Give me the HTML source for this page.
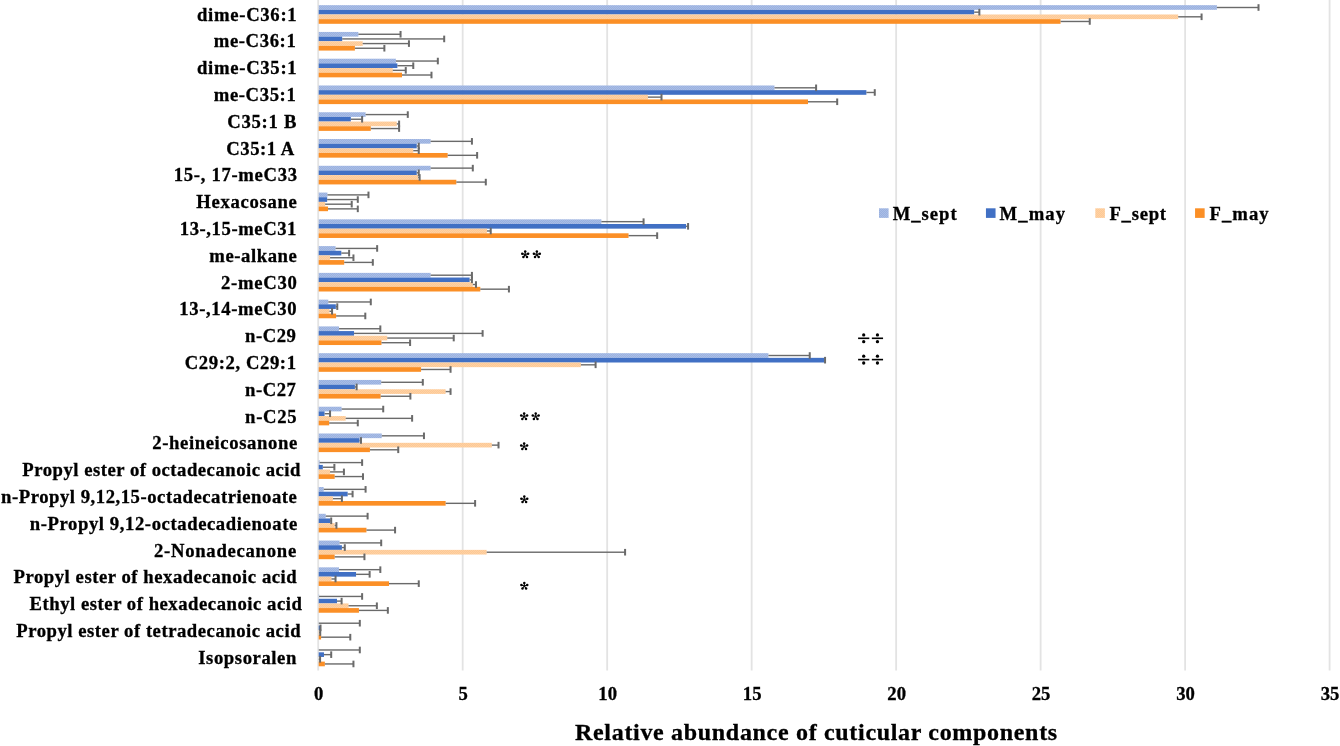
<!DOCTYPE html>
<html><head><meta charset="utf-8"><style>
html,body{margin:0;padding:0;background:#fff;}
body{width:1340px;height:746px;overflow:hidden;}
svg{display:block;}
svg{will-change:transform}
.lb{font-family:"Liberation Serif",serif;font-weight:bold;font-size:18.67px;fill:#000;stroke:#000;stroke-width:0.3px;white-space:pre;}
.tt{font-family:"Liberation Serif",serif;font-weight:bold;font-size:24px;fill:#000;stroke:#000;stroke-width:0.3px;}
</style></head><body>
<svg width="1340" height="746" viewBox="0 0 1340 746">
<defs>
<pattern id="pb" width="2" height="2" patternUnits="userSpaceOnUse"><rect width="2" height="2" fill="#9AB1DF"/><rect width="1" height="1" fill="#A9BDE6"/><rect x="1" y="1" width="1" height="1" fill="#A9BDE6"/></pattern>
<pattern id="po" width="2" height="2" patternUnits="userSpaceOnUse"><rect width="2" height="2" fill="#FDC994"/><rect width="1" height="1" fill="#FED1A5"/><rect x="1" y="1" width="1" height="1" fill="#FED1A5"/></pattern>
</defs>
<rect width="1340" height="746" fill="#fff"/>
<rect x="317.30" y="0" width="1.8" height="670.5" fill="#e3e3e3"/>
<rect x="461.78" y="0" width="1.8" height="670.5" fill="#e3e3e3"/>
<rect x="606.27" y="0" width="1.8" height="670.5" fill="#e3e3e3"/>
<rect x="750.75" y="0" width="1.8" height="670.5" fill="#e3e3e3"/>
<rect x="895.24" y="0" width="1.8" height="670.5" fill="#e3e3e3"/>
<rect x="1039.72" y="0" width="1.8" height="670.5" fill="#e3e3e3"/>
<rect x="1184.21" y="0" width="1.8" height="670.5" fill="#e3e3e3"/>
<rect x="1328.69" y="0" width="1.8" height="670.5" fill="#e3e3e3"/>
<rect x="318.70" y="5.17" width="898.20" height="4.66" fill="url(#pb)"/>
<rect x="318.70" y="9.83" width="655.46" height="4.66" fill="#4170C4"/>
<rect x="318.70" y="14.48" width="859.47" height="4.66" fill="url(#po)"/>
<rect x="318.70" y="19.14" width="741.86" height="4.66" fill="#FB8F26"/>
<rect x="318.70" y="31.94" width="39.67" height="4.66" fill="url(#pb)"/>
<rect x="318.70" y="36.60" width="23.48" height="4.66" fill="#4170C4"/>
<rect x="318.70" y="41.26" width="44.00" height="4.66" fill="url(#po)"/>
<rect x="318.70" y="45.91" width="36.20" height="4.66" fill="#FB8F26"/>
<rect x="318.70" y="58.71" width="77.23" height="4.66" fill="url(#pb)"/>
<rect x="318.70" y="63.37" width="78.68" height="4.66" fill="#4170C4"/>
<rect x="318.70" y="68.02" width="74.05" height="4.66" fill="url(#po)"/>
<rect x="318.70" y="72.68" width="83.30" height="4.66" fill="#FB8F26"/>
<rect x="318.70" y="85.48" width="455.78" height="4.66" fill="url(#pb)"/>
<rect x="318.70" y="90.14" width="547.68" height="4.66" fill="#4170C4"/>
<rect x="318.70" y="94.79" width="329.21" height="4.66" fill="url(#po)"/>
<rect x="318.70" y="99.45" width="489.30" height="4.66" fill="#FB8F26"/>
<rect x="318.70" y="112.25" width="46.89" height="4.66" fill="url(#pb)"/>
<rect x="318.70" y="116.91" width="32.15" height="4.66" fill="#4170C4"/>
<rect x="318.70" y="121.56" width="78.10" height="4.66" fill="url(#po)"/>
<rect x="318.70" y="126.22" width="52.09" height="4.66" fill="#FB8F26"/>
<rect x="318.70" y="139.02" width="111.91" height="4.66" fill="url(#pb)"/>
<rect x="318.70" y="143.68" width="98.04" height="4.66" fill="#4170C4"/>
<rect x="318.70" y="148.33" width="94.57" height="4.66" fill="url(#po)"/>
<rect x="318.70" y="152.99" width="128.96" height="4.66" fill="#FB8F26"/>
<rect x="318.70" y="165.79" width="111.91" height="4.66" fill="url(#pb)"/>
<rect x="318.70" y="170.45" width="98.04" height="4.66" fill="#4170C4"/>
<rect x="318.70" y="175.10" width="99.48" height="4.66" fill="url(#po)"/>
<rect x="318.70" y="179.76" width="137.63" height="4.66" fill="#FB8F26"/>
<rect x="318.70" y="192.56" width="8.75" height="4.66" fill="url(#pb)"/>
<rect x="318.70" y="197.22" width="8.46" height="4.66" fill="#4170C4"/>
<rect x="318.70" y="201.87" width="6.44" height="4.66" fill="url(#po)"/>
<rect x="318.70" y="206.53" width="9.32" height="4.66" fill="#FB8F26"/>
<rect x="318.70" y="219.33" width="282.69" height="4.66" fill="url(#pb)"/>
<rect x="318.70" y="223.99" width="367.36" height="4.66" fill="#4170C4"/>
<rect x="318.70" y="228.64" width="168.26" height="4.66" fill="url(#po)"/>
<rect x="318.70" y="233.30" width="309.85" height="4.66" fill="#FB8F26"/>
<rect x="318.70" y="246.10" width="16.84" height="4.66" fill="url(#pb)"/>
<rect x="318.70" y="250.76" width="22.62" height="4.66" fill="#4170C4"/>
<rect x="318.70" y="255.41" width="11.35" height="4.66" fill="url(#po)"/>
<rect x="318.70" y="260.07" width="25.51" height="4.66" fill="#FB8F26"/>
<rect x="318.70" y="272.87" width="111.91" height="4.66" fill="url(#pb)"/>
<rect x="318.70" y="277.53" width="150.92" height="4.66" fill="#4170C4"/>
<rect x="318.70" y="282.19" width="154.10" height="4.66" fill="url(#po)"/>
<rect x="318.70" y="286.84" width="161.61" height="4.66" fill="#FB8F26"/>
<rect x="318.70" y="299.64" width="9.61" height="4.66" fill="url(#pb)"/>
<rect x="318.70" y="304.30" width="17.13" height="4.66" fill="#4170C4"/>
<rect x="318.70" y="308.95" width="10.77" height="4.66" fill="url(#po)"/>
<rect x="318.70" y="313.61" width="17.42" height="4.66" fill="#FB8F26"/>
<rect x="318.70" y="326.41" width="20.31" height="4.66" fill="url(#pb)"/>
<rect x="318.70" y="331.07" width="35.33" height="4.66" fill="#4170C4"/>
<rect x="318.70" y="335.73" width="68.56" height="4.66" fill="url(#po)"/>
<rect x="318.70" y="340.38" width="62.78" height="4.66" fill="#FB8F26"/>
<rect x="318.70" y="353.18" width="449.72" height="4.66" fill="url(#pb)"/>
<rect x="318.70" y="357.84" width="505.78" height="4.66" fill="#4170C4"/>
<rect x="318.70" y="362.50" width="262.17" height="4.66" fill="url(#po)"/>
<rect x="318.70" y="367.15" width="102.37" height="4.66" fill="#FB8F26"/>
<rect x="318.70" y="379.95" width="62.50" height="4.66" fill="url(#pb)"/>
<rect x="318.70" y="384.61" width="36.20" height="4.66" fill="#4170C4"/>
<rect x="318.70" y="389.26" width="126.94" height="4.66" fill="url(#po)"/>
<rect x="318.70" y="393.92" width="61.92" height="4.66" fill="#FB8F26"/>
<rect x="318.70" y="406.72" width="22.91" height="4.66" fill="url(#pb)"/>
<rect x="318.70" y="411.38" width="5.86" height="4.66" fill="#4170C4"/>
<rect x="318.70" y="416.04" width="26.95" height="4.66" fill="url(#po)"/>
<rect x="318.70" y="420.69" width="10.48" height="4.66" fill="#FB8F26"/>
<rect x="318.70" y="433.49" width="63.07" height="4.66" fill="url(#pb)"/>
<rect x="318.70" y="438.15" width="40.82" height="4.66" fill="#4170C4"/>
<rect x="318.70" y="442.81" width="173.17" height="4.66" fill="url(#po)"/>
<rect x="318.70" y="447.46" width="51.23" height="4.66" fill="#FB8F26"/>
<rect x="318.70" y="460.26" width="0.94" height="4.66" fill="url(#pb)"/>
<rect x="318.70" y="464.92" width="4.12" height="4.66" fill="#4170C4"/>
<rect x="318.70" y="469.57" width="11.35" height="4.66" fill="url(#po)"/>
<rect x="318.70" y="474.23" width="15.97" height="4.66" fill="#FB8F26"/>
<rect x="318.70" y="487.03" width="4.99" height="4.66" fill="url(#pb)"/>
<rect x="318.70" y="491.69" width="28.97" height="4.66" fill="#4170C4"/>
<rect x="318.70" y="496.35" width="14.24" height="4.66" fill="url(#po)"/>
<rect x="318.70" y="501.00" width="126.94" height="4.66" fill="#FB8F26"/>
<rect x="318.70" y="513.80" width="7.01" height="4.66" fill="url(#pb)"/>
<rect x="318.70" y="518.46" width="11.64" height="4.66" fill="#4170C4"/>
<rect x="318.70" y="523.12" width="15.97" height="4.66" fill="url(#po)"/>
<rect x="318.70" y="527.77" width="47.76" height="4.66" fill="#FB8F26"/>
<rect x="318.70" y="540.57" width="20.88" height="4.66" fill="url(#pb)"/>
<rect x="318.70" y="545.23" width="23.20" height="4.66" fill="#4170C4"/>
<rect x="318.70" y="549.88" width="167.97" height="4.66" fill="url(#po)"/>
<rect x="318.70" y="554.54" width="15.97" height="4.66" fill="#FB8F26"/>
<rect x="318.70" y="567.34" width="20.31" height="4.66" fill="url(#pb)"/>
<rect x="318.70" y="572.00" width="37.36" height="4.66" fill="#4170C4"/>
<rect x="318.70" y="576.65" width="12.79" height="4.66" fill="url(#po)"/>
<rect x="318.70" y="581.31" width="70.30" height="4.66" fill="#FB8F26"/>
<rect x="318.70" y="594.11" width="0.37" height="4.66" fill="url(#pb)"/>
<rect x="318.70" y="598.77" width="18.28" height="4.66" fill="#4170C4"/>
<rect x="318.70" y="603.42" width="29.84" height="4.66" fill="url(#po)"/>
<rect x="318.70" y="608.08" width="40.24" height="4.66" fill="#FB8F26"/>
<rect x="318.70" y="620.88" width="0.08" height="4.66" fill="url(#pb)"/>
<rect x="318.70" y="625.54" width="1.52" height="4.66" fill="#4170C4"/>
<rect x="318.70" y="630.20" width="0.37" height="4.66" fill="url(#po)"/>
<rect x="318.70" y="634.85" width="2.39" height="4.66" fill="#FB8F26"/>
<rect x="318.70" y="647.65" width="0.08" height="4.66" fill="url(#pb)"/>
<rect x="318.70" y="652.31" width="5.28" height="4.66" fill="#4170C4"/>
<rect x="318.70" y="656.97" width="0.08" height="4.66" fill="url(#po)"/>
<rect x="318.70" y="661.62" width="6.15" height="4.66" fill="#FB8F26"/>
<rect x="1216.90" y="6.80" width="41.61" height="1.4" fill="#6a6a6a"/>
<rect x="1257.51" y="4.20" width="2" height="6.6" fill="#6a6a6a"/>
<rect x="974.16" y="11.46" width="5.20" height="1.4" fill="#6a6a6a"/>
<rect x="978.36" y="8.86" width="2" height="6.6" fill="#6a6a6a"/>
<rect x="1178.17" y="16.11" width="23.41" height="1.4" fill="#6a6a6a"/>
<rect x="1200.58" y="13.51" width="2" height="6.6" fill="#6a6a6a"/>
<rect x="1060.56" y="20.77" width="29.19" height="1.4" fill="#6a6a6a"/>
<rect x="1088.75" y="18.17" width="2" height="6.6" fill="#6a6a6a"/>
<rect x="358.37" y="33.57" width="42.19" height="1.4" fill="#6a6a6a"/>
<rect x="399.56" y="30.97" width="2" height="6.6" fill="#6a6a6a"/>
<rect x="342.18" y="38.23" width="102.01" height="1.4" fill="#6a6a6a"/>
<rect x="443.19" y="35.63" width="2" height="6.6" fill="#6a6a6a"/>
<rect x="362.70" y="42.88" width="46.24" height="1.4" fill="#6a6a6a"/>
<rect x="407.94" y="40.28" width="2" height="6.6" fill="#6a6a6a"/>
<rect x="354.90" y="47.54" width="29.47" height="1.4" fill="#6a6a6a"/>
<rect x="383.37" y="44.94" width="2" height="6.6" fill="#6a6a6a"/>
<rect x="395.93" y="60.34" width="41.90" height="1.4" fill="#6a6a6a"/>
<rect x="436.83" y="57.74" width="2" height="6.6" fill="#6a6a6a"/>
<rect x="397.38" y="65.00" width="15.89" height="1.4" fill="#6a6a6a"/>
<rect x="412.27" y="62.40" width="2" height="6.6" fill="#6a6a6a"/>
<rect x="392.75" y="69.65" width="13.00" height="1.4" fill="#6a6a6a"/>
<rect x="404.76" y="67.05" width="2" height="6.6" fill="#6a6a6a"/>
<rect x="402.00" y="74.31" width="29.47" height="1.4" fill="#6a6a6a"/>
<rect x="430.48" y="71.71" width="2" height="6.6" fill="#6a6a6a"/>
<rect x="774.48" y="87.11" width="41.61" height="1.4" fill="#6a6a6a"/>
<rect x="815.10" y="84.51" width="2" height="6.6" fill="#6a6a6a"/>
<rect x="866.38" y="91.77" width="8.38" height="1.4" fill="#6a6a6a"/>
<rect x="873.76" y="89.17" width="2" height="6.6" fill="#6a6a6a"/>
<rect x="647.91" y="96.42" width="13.58" height="1.4" fill="#6a6a6a"/>
<rect x="660.50" y="93.82" width="2" height="6.6" fill="#6a6a6a"/>
<rect x="808.00" y="101.08" width="29.19" height="1.4" fill="#6a6a6a"/>
<rect x="836.19" y="98.48" width="2" height="6.6" fill="#6a6a6a"/>
<rect x="365.59" y="113.88" width="42.19" height="1.4" fill="#6a6a6a"/>
<rect x="406.78" y="111.28" width="2" height="6.6" fill="#6a6a6a"/>
<rect x="350.85" y="118.54" width="11.27" height="1.4" fill="#6a6a6a"/>
<rect x="361.12" y="115.94" width="2" height="6.6" fill="#6a6a6a"/>
<rect x="396.80" y="123.19" width="2.31" height="1.4" fill="#6a6a6a"/>
<rect x="398.11" y="120.59" width="2" height="6.6" fill="#6a6a6a"/>
<rect x="370.79" y="127.85" width="28.32" height="1.4" fill="#6a6a6a"/>
<rect x="398.11" y="125.25" width="2" height="6.6" fill="#6a6a6a"/>
<rect x="430.61" y="140.65" width="41.32" height="1.4" fill="#6a6a6a"/>
<rect x="470.93" y="138.05" width="2" height="6.6" fill="#6a6a6a"/>
<rect x="416.74" y="145.31" width="2.02" height="1.4" fill="#6a6a6a"/>
<rect x="417.76" y="142.71" width="2" height="6.6" fill="#6a6a6a"/>
<rect x="413.27" y="149.96" width="5.49" height="1.4" fill="#6a6a6a"/>
<rect x="417.76" y="147.36" width="2" height="6.6" fill="#6a6a6a"/>
<rect x="447.66" y="154.62" width="29.47" height="1.4" fill="#6a6a6a"/>
<rect x="476.13" y="152.02" width="2" height="6.6" fill="#6a6a6a"/>
<rect x="430.61" y="167.42" width="42.19" height="1.4" fill="#6a6a6a"/>
<rect x="471.80" y="164.82" width="2" height="6.6" fill="#6a6a6a"/>
<rect x="416.74" y="172.08" width="2.02" height="1.4" fill="#6a6a6a"/>
<rect x="417.76" y="169.48" width="2" height="6.6" fill="#6a6a6a"/>
<rect x="418.18" y="176.73" width="1.44" height="1.4" fill="#6a6a6a"/>
<rect x="418.63" y="174.13" width="2" height="6.6" fill="#6a6a6a"/>
<rect x="456.33" y="181.39" width="29.47" height="1.4" fill="#6a6a6a"/>
<rect x="484.80" y="178.79" width="2" height="6.6" fill="#6a6a6a"/>
<rect x="327.45" y="194.19" width="41.03" height="1.4" fill="#6a6a6a"/>
<rect x="367.48" y="191.59" width="2" height="6.6" fill="#6a6a6a"/>
<rect x="327.16" y="198.85" width="30.63" height="1.4" fill="#6a6a6a"/>
<rect x="356.79" y="196.25" width="2" height="6.6" fill="#6a6a6a"/>
<rect x="325.14" y="203.50" width="26.59" height="1.4" fill="#6a6a6a"/>
<rect x="350.72" y="200.90" width="2" height="6.6" fill="#6a6a6a"/>
<rect x="328.02" y="208.16" width="29.76" height="1.4" fill="#6a6a6a"/>
<rect x="356.79" y="205.56" width="2" height="6.6" fill="#6a6a6a"/>
<rect x="601.39" y="220.96" width="42.19" height="1.4" fill="#6a6a6a"/>
<rect x="642.58" y="218.36" width="2" height="6.6" fill="#6a6a6a"/>
<rect x="686.06" y="225.62" width="2.02" height="1.4" fill="#6a6a6a"/>
<rect x="687.08" y="223.02" width="2" height="6.6" fill="#6a6a6a"/>
<rect x="486.96" y="230.27" width="3.76" height="1.4" fill="#6a6a6a"/>
<rect x="489.72" y="227.67" width="2" height="6.6" fill="#6a6a6a"/>
<rect x="628.55" y="234.93" width="28.61" height="1.4" fill="#6a6a6a"/>
<rect x="656.16" y="232.33" width="2" height="6.6" fill="#6a6a6a"/>
<rect x="335.54" y="247.73" width="41.61" height="1.4" fill="#6a6a6a"/>
<rect x="376.15" y="245.13" width="2" height="6.6" fill="#6a6a6a"/>
<rect x="341.32" y="252.39" width="7.80" height="1.4" fill="#6a6a6a"/>
<rect x="348.12" y="249.79" width="2" height="6.6" fill="#6a6a6a"/>
<rect x="330.05" y="257.04" width="23.41" height="1.4" fill="#6a6a6a"/>
<rect x="352.45" y="254.44" width="2" height="6.6" fill="#6a6a6a"/>
<rect x="344.21" y="261.70" width="28.61" height="1.4" fill="#6a6a6a"/>
<rect x="371.82" y="259.10" width="2" height="6.6" fill="#6a6a6a"/>
<rect x="430.61" y="274.50" width="41.32" height="1.4" fill="#6a6a6a"/>
<rect x="470.93" y="271.90" width="2" height="6.6" fill="#6a6a6a"/>
<rect x="469.62" y="279.16" width="2.31" height="1.4" fill="#6a6a6a"/>
<rect x="470.93" y="276.56" width="2" height="6.6" fill="#6a6a6a"/>
<rect x="472.80" y="283.81" width="3.18" height="1.4" fill="#6a6a6a"/>
<rect x="474.98" y="281.21" width="2" height="6.6" fill="#6a6a6a"/>
<rect x="480.31" y="288.47" width="28.61" height="1.4" fill="#6a6a6a"/>
<rect x="507.92" y="285.87" width="2" height="6.6" fill="#6a6a6a"/>
<rect x="328.31" y="301.27" width="42.48" height="1.4" fill="#6a6a6a"/>
<rect x="369.79" y="298.67" width="2" height="6.6" fill="#6a6a6a"/>
<rect x="335.83" y="305.93" width="1.44" height="1.4" fill="#6a6a6a"/>
<rect x="336.27" y="303.33" width="2" height="6.6" fill="#6a6a6a"/>
<rect x="329.47" y="310.58" width="2.60" height="1.4" fill="#6a6a6a"/>
<rect x="331.07" y="307.98" width="2" height="6.6" fill="#6a6a6a"/>
<rect x="336.12" y="315.24" width="29.19" height="1.4" fill="#6a6a6a"/>
<rect x="364.30" y="312.64" width="2" height="6.6" fill="#6a6a6a"/>
<rect x="339.01" y="328.04" width="41.32" height="1.4" fill="#6a6a6a"/>
<rect x="379.33" y="325.44" width="2" height="6.6" fill="#6a6a6a"/>
<rect x="354.03" y="332.70" width="128.59" height="1.4" fill="#6a6a6a"/>
<rect x="481.62" y="330.10" width="2" height="6.6" fill="#6a6a6a"/>
<rect x="387.26" y="337.35" width="66.46" height="1.4" fill="#6a6a6a"/>
<rect x="452.73" y="334.75" width="2" height="6.6" fill="#6a6a6a"/>
<rect x="381.48" y="342.01" width="28.61" height="1.4" fill="#6a6a6a"/>
<rect x="409.09" y="339.41" width="2" height="6.6" fill="#6a6a6a"/>
<rect x="768.42" y="354.81" width="41.32" height="1.4" fill="#6a6a6a"/>
<rect x="808.74" y="352.21" width="2" height="6.6" fill="#6a6a6a"/>
<rect x="824.48" y="359.47" width="0.58" height="1.4" fill="#6a6a6a"/>
<rect x="824.05" y="356.87" width="2" height="6.6" fill="#6a6a6a"/>
<rect x="580.87" y="364.12" width="14.74" height="1.4" fill="#6a6a6a"/>
<rect x="594.61" y="361.52" width="2" height="6.6" fill="#6a6a6a"/>
<rect x="421.07" y="368.78" width="29.47" height="1.4" fill="#6a6a6a"/>
<rect x="449.55" y="366.18" width="2" height="6.6" fill="#6a6a6a"/>
<rect x="381.20" y="381.58" width="41.61" height="1.4" fill="#6a6a6a"/>
<rect x="421.81" y="378.98" width="2" height="6.6" fill="#6a6a6a"/>
<rect x="354.90" y="386.24" width="1.73" height="1.4" fill="#6a6a6a"/>
<rect x="355.63" y="383.64" width="2" height="6.6" fill="#6a6a6a"/>
<rect x="445.64" y="390.89" width="4.91" height="1.4" fill="#6a6a6a"/>
<rect x="449.55" y="388.29" width="2" height="6.6" fill="#6a6a6a"/>
<rect x="380.62" y="395.55" width="29.76" height="1.4" fill="#6a6a6a"/>
<rect x="409.38" y="392.95" width="2" height="6.6" fill="#6a6a6a"/>
<rect x="341.61" y="408.35" width="41.61" height="1.4" fill="#6a6a6a"/>
<rect x="382.22" y="405.75" width="2" height="6.6" fill="#6a6a6a"/>
<rect x="324.56" y="413.01" width="5.49" height="1.4" fill="#6a6a6a"/>
<rect x="329.05" y="410.41" width="2" height="6.6" fill="#6a6a6a"/>
<rect x="345.65" y="417.66" width="66.46" height="1.4" fill="#6a6a6a"/>
<rect x="411.12" y="415.06" width="2" height="6.6" fill="#6a6a6a"/>
<rect x="329.18" y="422.32" width="28.61" height="1.4" fill="#6a6a6a"/>
<rect x="356.79" y="419.72" width="2" height="6.6" fill="#6a6a6a"/>
<rect x="381.77" y="435.12" width="42.19" height="1.4" fill="#6a6a6a"/>
<rect x="422.96" y="432.52" width="2" height="6.6" fill="#6a6a6a"/>
<rect x="359.52" y="439.78" width="1.44" height="1.4" fill="#6a6a6a"/>
<rect x="359.97" y="437.18" width="2" height="6.6" fill="#6a6a6a"/>
<rect x="491.87" y="444.43" width="6.65" height="1.4" fill="#6a6a6a"/>
<rect x="497.52" y="441.83" width="2" height="6.6" fill="#6a6a6a"/>
<rect x="369.93" y="449.09" width="28.32" height="1.4" fill="#6a6a6a"/>
<rect x="397.24" y="446.49" width="2" height="6.6" fill="#6a6a6a"/>
<rect x="319.64" y="461.89" width="42.48" height="1.4" fill="#6a6a6a"/>
<rect x="361.12" y="459.29" width="2" height="6.6" fill="#6a6a6a"/>
<rect x="322.82" y="466.55" width="11.56" height="1.4" fill="#6a6a6a"/>
<rect x="333.38" y="463.95" width="2" height="6.6" fill="#6a6a6a"/>
<rect x="330.05" y="471.20" width="13.87" height="1.4" fill="#6a6a6a"/>
<rect x="342.92" y="468.60" width="2" height="6.6" fill="#6a6a6a"/>
<rect x="334.67" y="475.86" width="28.32" height="1.4" fill="#6a6a6a"/>
<rect x="361.99" y="473.26" width="2" height="6.6" fill="#6a6a6a"/>
<rect x="323.69" y="488.66" width="41.90" height="1.4" fill="#6a6a6a"/>
<rect x="364.59" y="486.06" width="2" height="6.6" fill="#6a6a6a"/>
<rect x="347.67" y="493.32" width="4.91" height="1.4" fill="#6a6a6a"/>
<rect x="351.59" y="490.72" width="2" height="6.6" fill="#6a6a6a"/>
<rect x="332.94" y="497.97" width="8.96" height="1.4" fill="#6a6a6a"/>
<rect x="340.90" y="495.37" width="2" height="6.6" fill="#6a6a6a"/>
<rect x="445.64" y="502.63" width="29.47" height="1.4" fill="#6a6a6a"/>
<rect x="474.11" y="500.03" width="2" height="6.6" fill="#6a6a6a"/>
<rect x="325.71" y="515.43" width="41.90" height="1.4" fill="#6a6a6a"/>
<rect x="366.61" y="512.83" width="2" height="6.6" fill="#6a6a6a"/>
<rect x="330.34" y="520.09" width="0.87" height="1.4" fill="#6a6a6a"/>
<rect x="330.20" y="517.49" width="2" height="6.6" fill="#6a6a6a"/>
<rect x="334.67" y="524.74" width="1.73" height="1.4" fill="#6a6a6a"/>
<rect x="335.41" y="522.14" width="2" height="6.6" fill="#6a6a6a"/>
<rect x="366.46" y="529.40" width="28.61" height="1.4" fill="#6a6a6a"/>
<rect x="394.07" y="526.80" width="2" height="6.6" fill="#6a6a6a"/>
<rect x="339.58" y="542.20" width="41.61" height="1.4" fill="#6a6a6a"/>
<rect x="380.20" y="539.60" width="2" height="6.6" fill="#6a6a6a"/>
<rect x="341.90" y="546.86" width="2.89" height="1.4" fill="#6a6a6a"/>
<rect x="343.79" y="544.26" width="2" height="6.6" fill="#6a6a6a"/>
<rect x="486.67" y="551.51" width="138.42" height="1.4" fill="#6a6a6a"/>
<rect x="624.09" y="548.91" width="2" height="6.6" fill="#6a6a6a"/>
<rect x="334.67" y="556.17" width="29.76" height="1.4" fill="#6a6a6a"/>
<rect x="363.44" y="553.57" width="2" height="6.6" fill="#6a6a6a"/>
<rect x="339.01" y="568.97" width="41.32" height="1.4" fill="#6a6a6a"/>
<rect x="379.33" y="566.37" width="2" height="6.6" fill="#6a6a6a"/>
<rect x="356.06" y="573.63" width="13.58" height="1.4" fill="#6a6a6a"/>
<rect x="368.64" y="571.03" width="2" height="6.6" fill="#6a6a6a"/>
<rect x="331.49" y="578.28" width="4.05" height="1.4" fill="#6a6a6a"/>
<rect x="334.54" y="575.68" width="2" height="6.6" fill="#6a6a6a"/>
<rect x="389.00" y="582.94" width="29.76" height="1.4" fill="#6a6a6a"/>
<rect x="417.76" y="580.34" width="2" height="6.6" fill="#6a6a6a"/>
<rect x="319.07" y="595.74" width="43.06" height="1.4" fill="#6a6a6a"/>
<rect x="361.12" y="593.14" width="2" height="6.6" fill="#6a6a6a"/>
<rect x="336.98" y="600.40" width="4.62" height="1.4" fill="#6a6a6a"/>
<rect x="340.61" y="597.80" width="2" height="6.6" fill="#6a6a6a"/>
<rect x="348.54" y="605.05" width="28.32" height="1.4" fill="#6a6a6a"/>
<rect x="375.86" y="602.45" width="2" height="6.6" fill="#6a6a6a"/>
<rect x="358.94" y="609.71" width="28.90" height="1.4" fill="#6a6a6a"/>
<rect x="386.84" y="607.11" width="2" height="6.6" fill="#6a6a6a"/>
<rect x="318.78" y="622.51" width="41.03" height="1.4" fill="#6a6a6a"/>
<rect x="358.81" y="619.91" width="2" height="6.6" fill="#6a6a6a"/>
<rect x="320.22" y="627.17" width="0.29" height="1.4" fill="#6a6a6a"/>
<rect x="319.51" y="624.57" width="2" height="6.6" fill="#6a6a6a"/>
<rect x="319.07" y="631.82" width="1.16" height="1.4" fill="#6a6a6a"/>
<rect x="319.22" y="629.22" width="2" height="6.6" fill="#6a6a6a"/>
<rect x="321.09" y="636.48" width="29.19" height="1.4" fill="#6a6a6a"/>
<rect x="349.28" y="633.88" width="2" height="6.6" fill="#6a6a6a"/>
<rect x="318.78" y="649.28" width="41.03" height="1.4" fill="#6a6a6a"/>
<rect x="358.81" y="646.68" width="2" height="6.6" fill="#6a6a6a"/>
<rect x="323.98" y="653.94" width="7.22" height="1.4" fill="#6a6a6a"/>
<rect x="330.20" y="651.34" width="2" height="6.6" fill="#6a6a6a"/>
<rect x="318.78" y="658.59" width="1.30" height="1.4" fill="#6a6a6a"/>
<rect x="319.08" y="655.99" width="2" height="6.6" fill="#6a6a6a"/>
<rect x="324.85" y="663.25" width="28.61" height="1.4" fill="#6a6a6a"/>
<rect x="352.45" y="660.65" width="2" height="6.6" fill="#6a6a6a"/>
<rect x="879.00" y="208.3" width="9.6" height="9.6" fill="url(#pb)"/>
<rect x="985.95" y="208.3" width="9.6" height="9.6" fill="#4170C4"/>
<rect x="1095.30" y="208.3" width="9.6" height="9.6" fill="url(#po)"/>
<rect x="1195.05" y="208.3" width="9.6" height="9.6" fill="#FB8F26"/>
<text x="197.00" y="20.60" textLength="99.64" class="lb">dime-C36:1</text>
<text x="213.76" y="47.40" textLength="81.95" class="lb">me-C36:1</text>
<text x="197.00" y="74.20" textLength="99.64" class="lb">dime-C35:1</text>
<text x="213.76" y="101.00" textLength="81.95" class="lb">me-C35:1</text>
<text x="227.24" y="127.80" textLength="69.10" class="lb">C35:1 B</text>
<text x="226.28" y="154.60" textLength="68.02" class="lb">C35:1 A</text>
<text x="173.76" y="181.40" textLength="123.24" class="lb">15-, 17-meC33</text>
<text x="196.24" y="208.20" textLength="100.51" class="lb">Hexacosane</text>
<text x="179.76" y="235.00" textLength="116.66" class="lb">13-,15-meC31</text>
<text x="209.28" y="261.80" textLength="87.59" class="lb">me-alkane</text>
<text x="221.00" y="288.60" textLength="75.86" class="lb">2-meC30</text>
<text x="179.28" y="315.40" textLength="117.30" class="lb">13-,14-meC30</text>
<text x="245.00" y="342.20" textLength="50.89" class="lb">n-C29</text>
<text x="184.76" y="369.00" textLength="111.22" class="lb">C29:2, C29:1</text>
<text x="245.00" y="395.80" textLength="50.89" class="lb">n-C27</text>
<text x="245.04" y="422.60" textLength="51.57" class="lb">n-C25</text>
<text x="152.24" y="449.40" textLength="144.98" class="lb">2-heineicosanone</text>
<text x="22.28" y="476.20" textLength="278.11" class="lb">Propyl ester of octadecanoic acid</text>
<text x="1.04" y="503.00" textLength="295.74" class="lb">n-Propyl 9,12,15-octadecatrienoate</text>
<text x="29.72" y="529.80" textLength="267.56" class="lb">n-Propyl 9,12-octadecadienoate</text>
<text x="154.00" y="556.60" textLength="142.17" class="lb">2-Nonadecanone</text>
<text x="13.48" y="583.40" textLength="283.23" class="lb">Propyl ester of hexadecanoic acid</text>
<text x="29.52" y="610.20" textLength="272.28" class="lb">Ethyl ester of hexadecanoic acid</text>
<text x="16.24" y="637.00" textLength="284.30" class="lb">Propyl ester of tetradecanoic acid</text>
<text x="198.28" y="663.80" textLength="98.03" class="lb">Isopsoralen</text>
<text x="892.72" y="220.00" textLength="63.93" class="lb">M_sept</text>
<text x="999.48" y="220.00" textLength="65.62" class="lb">M_may</text>
<text x="1109.48" y="220.00" textLength="56.56" class="lb">F_sept</text>
<text x="1209.48" y="220.00" textLength="59.20" class="lb">F_may</text>
<text x="575.00" y="739.70" textLength="482.16" class="tt">Relative abundance of cuticular components</text>
<text x="318.70" y="700" text-anchor="middle" class="lb">0</text>
<text x="463.18" y="700" text-anchor="middle" class="lb">5</text>
<text x="607.67" y="700" text-anchor="middle" class="lb">10</text>
<text x="752.15" y="700" text-anchor="middle" class="lb">15</text>
<text x="896.64" y="700" text-anchor="middle" class="lb">20</text>
<text x="1041.12" y="700" text-anchor="middle" class="lb">25</text>
<text x="1185.61" y="700" text-anchor="middle" class="lb">30</text>
<text x="1330.10" y="700" text-anchor="middle" class="lb">35</text>
<line x1="525.20" y1="254.60" x2="525.20" y2="251.50" stroke="#000" stroke-width="1.1"/><circle cx="525.20" cy="251.50" r="1.25" fill="#000"/><line x1="525.20" y1="254.60" x2="528.15" y2="253.64" stroke="#000" stroke-width="1.1"/><circle cx="528.15" cy="253.64" r="1.25" fill="#000"/><line x1="525.20" y1="254.60" x2="527.02" y2="257.11" stroke="#000" stroke-width="1.1"/><circle cx="527.02" cy="257.11" r="1.25" fill="#000"/><line x1="525.20" y1="254.60" x2="523.38" y2="257.11" stroke="#000" stroke-width="1.1"/><circle cx="523.38" cy="257.11" r="1.25" fill="#000"/><line x1="525.20" y1="254.60" x2="522.25" y2="253.64" stroke="#000" stroke-width="1.1"/><circle cx="522.25" cy="253.64" r="1.25" fill="#000"/>
<line x1="536.85" y1="254.60" x2="536.85" y2="251.50" stroke="#000" stroke-width="1.1"/><circle cx="536.85" cy="251.50" r="1.25" fill="#000"/><line x1="536.85" y1="254.60" x2="539.80" y2="253.64" stroke="#000" stroke-width="1.1"/><circle cx="539.80" cy="253.64" r="1.25" fill="#000"/><line x1="536.85" y1="254.60" x2="538.67" y2="257.11" stroke="#000" stroke-width="1.1"/><circle cx="538.67" cy="257.11" r="1.25" fill="#000"/><line x1="536.85" y1="254.60" x2="535.03" y2="257.11" stroke="#000" stroke-width="1.1"/><circle cx="535.03" cy="257.11" r="1.25" fill="#000"/><line x1="536.85" y1="254.60" x2="533.90" y2="253.64" stroke="#000" stroke-width="1.1"/><circle cx="533.90" cy="253.64" r="1.25" fill="#000"/>
<line x1="524.15" y1="416.50" x2="524.15" y2="413.40" stroke="#000" stroke-width="1.1"/><circle cx="524.15" cy="413.40" r="1.25" fill="#000"/><line x1="524.15" y1="416.50" x2="527.10" y2="415.54" stroke="#000" stroke-width="1.1"/><circle cx="527.10" cy="415.54" r="1.25" fill="#000"/><line x1="524.15" y1="416.50" x2="525.97" y2="419.01" stroke="#000" stroke-width="1.1"/><circle cx="525.97" cy="419.01" r="1.25" fill="#000"/><line x1="524.15" y1="416.50" x2="522.33" y2="419.01" stroke="#000" stroke-width="1.1"/><circle cx="522.33" cy="419.01" r="1.25" fill="#000"/><line x1="524.15" y1="416.50" x2="521.20" y2="415.54" stroke="#000" stroke-width="1.1"/><circle cx="521.20" cy="415.54" r="1.25" fill="#000"/>
<line x1="535.70" y1="416.50" x2="535.70" y2="413.40" stroke="#000" stroke-width="1.1"/><circle cx="535.70" cy="413.40" r="1.25" fill="#000"/><line x1="535.70" y1="416.50" x2="538.65" y2="415.54" stroke="#000" stroke-width="1.1"/><circle cx="538.65" cy="415.54" r="1.25" fill="#000"/><line x1="535.70" y1="416.50" x2="537.52" y2="419.01" stroke="#000" stroke-width="1.1"/><circle cx="537.52" cy="419.01" r="1.25" fill="#000"/><line x1="535.70" y1="416.50" x2="533.88" y2="419.01" stroke="#000" stroke-width="1.1"/><circle cx="533.88" cy="419.01" r="1.25" fill="#000"/><line x1="535.70" y1="416.50" x2="532.75" y2="415.54" stroke="#000" stroke-width="1.1"/><circle cx="532.75" cy="415.54" r="1.25" fill="#000"/>
<line x1="524.15" y1="446.50" x2="524.15" y2="443.40" stroke="#000" stroke-width="1.1"/><circle cx="524.15" cy="443.40" r="1.25" fill="#000"/><line x1="524.15" y1="446.50" x2="527.10" y2="445.54" stroke="#000" stroke-width="1.1"/><circle cx="527.10" cy="445.54" r="1.25" fill="#000"/><line x1="524.15" y1="446.50" x2="525.97" y2="449.01" stroke="#000" stroke-width="1.1"/><circle cx="525.97" cy="449.01" r="1.25" fill="#000"/><line x1="524.15" y1="446.50" x2="522.33" y2="449.01" stroke="#000" stroke-width="1.1"/><circle cx="522.33" cy="449.01" r="1.25" fill="#000"/><line x1="524.15" y1="446.50" x2="521.20" y2="445.54" stroke="#000" stroke-width="1.1"/><circle cx="521.20" cy="445.54" r="1.25" fill="#000"/>
<line x1="524.30" y1="499.60" x2="524.30" y2="496.50" stroke="#000" stroke-width="1.1"/><circle cx="524.30" cy="496.50" r="1.25" fill="#000"/><line x1="524.30" y1="499.60" x2="527.25" y2="498.64" stroke="#000" stroke-width="1.1"/><circle cx="527.25" cy="498.64" r="1.25" fill="#000"/><line x1="524.30" y1="499.60" x2="526.12" y2="502.11" stroke="#000" stroke-width="1.1"/><circle cx="526.12" cy="502.11" r="1.25" fill="#000"/><line x1="524.30" y1="499.60" x2="522.48" y2="502.11" stroke="#000" stroke-width="1.1"/><circle cx="522.48" cy="502.11" r="1.25" fill="#000"/><line x1="524.30" y1="499.60" x2="521.35" y2="498.64" stroke="#000" stroke-width="1.1"/><circle cx="521.35" cy="498.64" r="1.25" fill="#000"/>
<line x1="524.30" y1="586.00" x2="524.30" y2="582.90" stroke="#000" stroke-width="1.1"/><circle cx="524.30" cy="582.90" r="1.25" fill="#000"/><line x1="524.30" y1="586.00" x2="527.25" y2="585.04" stroke="#000" stroke-width="1.1"/><circle cx="527.25" cy="585.04" r="1.25" fill="#000"/><line x1="524.30" y1="586.00" x2="526.12" y2="588.51" stroke="#000" stroke-width="1.1"/><circle cx="526.12" cy="588.51" r="1.25" fill="#000"/><line x1="524.30" y1="586.00" x2="522.48" y2="588.51" stroke="#000" stroke-width="1.1"/><circle cx="522.48" cy="588.51" r="1.25" fill="#000"/><line x1="524.30" y1="586.00" x2="521.35" y2="585.04" stroke="#000" stroke-width="1.1"/><circle cx="521.35" cy="585.04" r="1.25" fill="#000"/>
<rect x="858.10" y="337.50" width="11.2" height="1.6" fill="#000"/>
<circle cx="863.70" cy="334.90" r="1.65" fill="#000"/>
<circle cx="863.70" cy="341.70" r="1.65" fill="#000"/>
<rect x="871.85" y="337.50" width="11.2" height="1.6" fill="#000"/>
<circle cx="877.45" cy="334.90" r="1.65" fill="#000"/>
<circle cx="877.45" cy="341.70" r="1.65" fill="#000"/>
<rect x="858.10" y="358.80" width="11.2" height="1.6" fill="#000"/>
<circle cx="863.70" cy="356.20" r="1.65" fill="#000"/>
<circle cx="863.70" cy="363.00" r="1.65" fill="#000"/>
<rect x="871.85" y="358.80" width="11.2" height="1.6" fill="#000"/>
<circle cx="877.45" cy="356.20" r="1.65" fill="#000"/>
<circle cx="877.45" cy="363.00" r="1.65" fill="#000"/>
</svg>
</body></html>
